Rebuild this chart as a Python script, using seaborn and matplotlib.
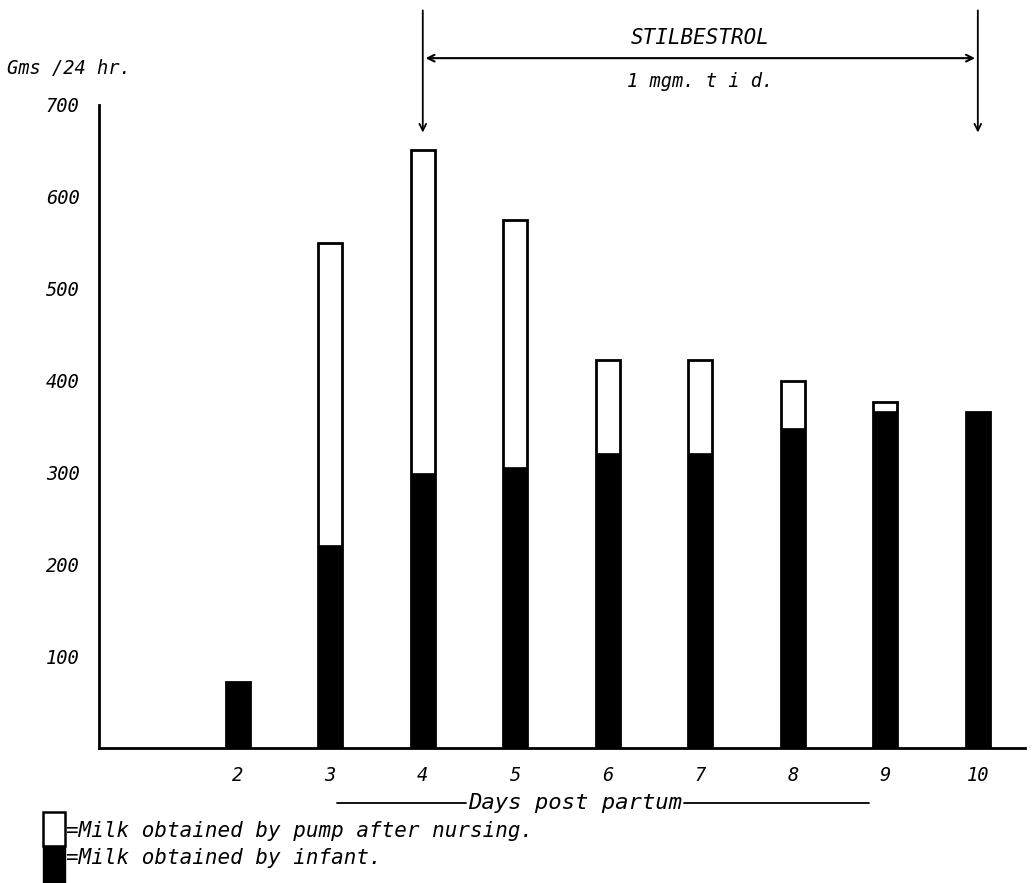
import matplotlib
matplotlib.use("Agg")
import matplotlib.pyplot as plt
import seaborn as sns
import pandas as pd
from matplotlib.patches import Rectangle
from matplotlib.lines import Line2D

# ---- data ----
days = [2, 3, 4, 5, 6, 7, 8, 9, 10]
infant = [72, 221, 299, 306, 321, 321, 348, 367, 366]     # black part
pump = [0, 329, 352, 269, 101, 101, 52, 10, 0]            # white part on top
y_ticks = [100, 200, 300, 400, 500, 600, 700]
x_tick_labels = ["2", "3", "4", "5", "6", "7", "8", "9", "10"]
treat_start, treat_end = 4, 10

total = [a + b for a, b in zip(infant, pump)]
df = pd.DataFrame({"day": days, "infant": infant, "total": total})

sns.set_theme(style="white")
plt.rcParams["font.family"] = ["DejaVu Sans Mono"]
FONT = dict(family="DejaVu Sans Mono", style="oblique", color="black")

W, H = 1034, 883
fig = plt.figure(figsize=(W / 100, H / 100), dpi=100)
ax = fig.add_axes([99 / W, 1 - 748 / H, (1025 - 99) / W, (748 - 105) / H])

sns.barplot(data=df, x="day", y="total", native_scale=True, width=0.26,
            color="white", edgecolor="black", linewidth=2, ax=ax, saturation=1)
sns.barplot(data=df, x="day", y="infant", native_scale=True, width=0.26,
            color="black", edgecolor="black", linewidth=0.5, ax=ax, saturation=1)

ax.set_xlim(0.5, 10.51)
ax.set_ylim(0, 700)
for s in ["top", "right"]:
    ax.spines[s].set_visible(False)
for s in ["left", "bottom"]:
    ax.spines[s].set_linewidth(2)
    ax.spines[s].set_color("black")

ax.set_yticks(y_ticks)
ax.set_yticklabels([str(t) for t in y_ticks], fontsize=13.5, **FONT)
ax.tick_params(axis="y", direction="inout", length=18, width=2, pad=5)
ax.set_xticks(days)
ax.set_xticklabels(x_tick_labels, fontsize=13.5, **FONT)
ax.tick_params(axis="x", length=0, pad=13)
ax.set_xlabel("")
ax.set_ylabel("")
ax.grid(False)

# y unit label
fig.text(7 / W, 1 - 68 / H, "Gms /24 hr.", fontsize=13.5, ha="left", va="center", **FONT)

# Stilbestrol treatment arrows
arrow_kw = dict(arrowstyle="->", color="black", lw=1.3)
ax.annotate("", xy=(treat_start, 667), xytext=(treat_start, 806),
            xycoords="data", arrowprops=arrow_kw, annotation_clip=False)
ax.annotate("", xy=(treat_end, 667), xytext=(treat_end, 806),
            xycoords="data", arrowprops=arrow_kw, annotation_clip=False)
ax.annotate("", xy=(treat_start, 751), xytext=(treat_end, 751),
            xycoords="data", arrowprops=dict(arrowstyle="<->", color="black", lw=1.5),
            annotation_clip=False)
mid = (treat_start + treat_end) / 2
ax.text(mid, 773, "STILBESTROL", ha="center", va="center", fontsize=15,
        clip_on=False, **FONT)
ax.text(mid, 726, "1 mgm. t i d.", ha="center", va="center", fontsize=13.5,
        clip_on=False, **FONT)

# x axis title with rules on both sides
y_days = 1 - 803 / H
t = fig.text(468 / W, y_days, "Days post partum", ha="left", va="center",
             fontsize=16, **FONT)
fig.canvas.draw()
bb = t.get_window_extent(renderer=fig.canvas.get_renderer())
fig.add_artist(Line2D([337 / W, 466 / W], [y_days, y_days], color="black", lw=1.3))
fig.add_artist(Line2D([(bb.x1 + 2) / W, 869 / W], [y_days, y_days], color="black", lw=1.3))

# legend swatches
fig.add_artist(Rectangle((43 / W, 1 - 846 / H), 22 / W, 34 / H, facecolor="white",
                         edgecolor="black", lw=1.8, transform=fig.transFigure))
fig.add_artist(Rectangle((43 / W, 0.0), 22 / W, 1 - 846 / H, facecolor="black",
                         edgecolor="black", lw=1, transform=fig.transFigure))
fig.text(66 / W, 1 - 831 / H, "=Milk obtained by pump after nursing.", ha="left",
         va="center", fontsize=15, **FONT)
fig.text(66 / W, 1 - 858 / H, "=Milk obtained by infant.", ha="left", va="center",
         fontsize=15, **FONT)

fig.savefig("out.png", dpi=100, facecolor="white")
